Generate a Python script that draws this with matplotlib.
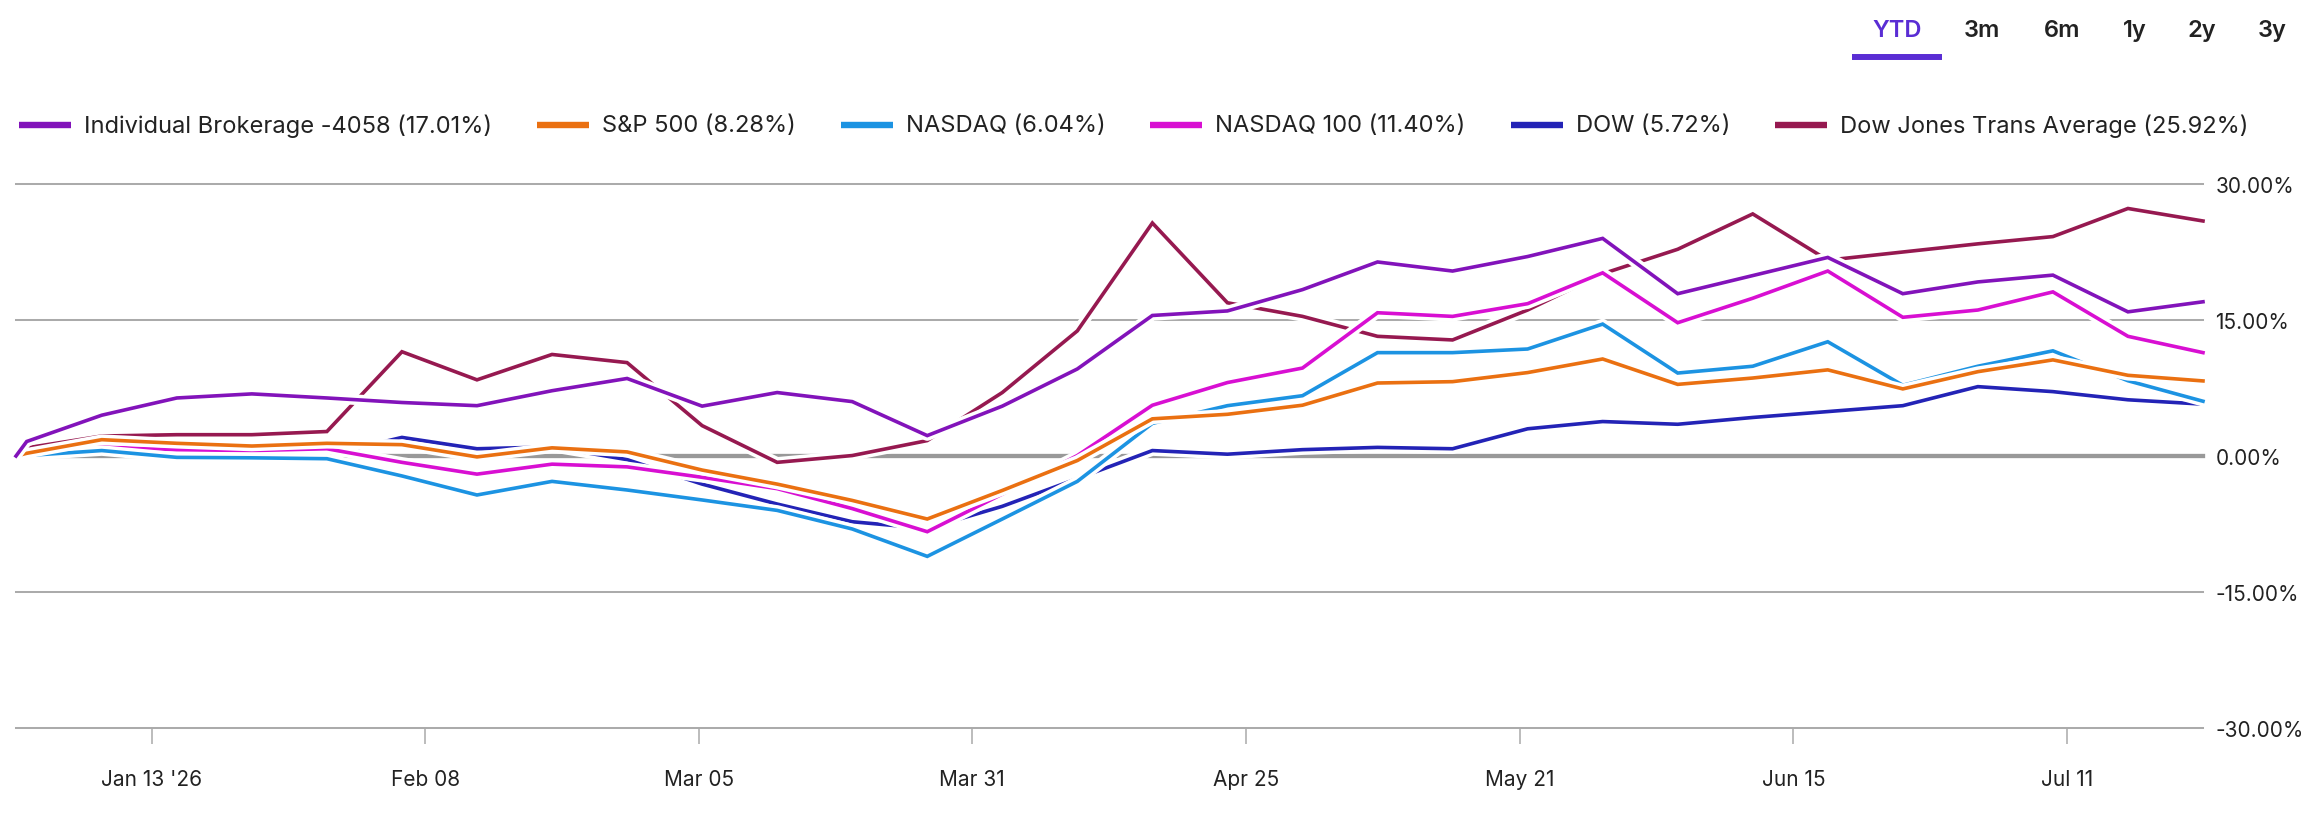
import matplotlib
matplotlib.use("Agg")
import matplotlib.pyplot as plt
import matplotlib.patheffects as pe
from matplotlib.lines import Line2D
import numpy as np

plt.rcParams['font.family'] = ['Inter', 'DejaVu Sans']

# ---------------- data ----------------
dates = np.array([
    '2025-12-31', '2026-01-01', '2026-01-08', '2026-01-15', '2026-01-22', '2026-01-29',
    '2026-02-05', '2026-02-12', '2026-02-19', '2026-02-26', '2026-03-05', '2026-03-12',
    '2026-03-19', '2026-03-26', '2026-04-02', '2026-04-09', '2026-04-16', '2026-04-23',
    '2026-04-30', '2026-05-07', '2026-05-14', '2026-05-21', '2026-05-28', '2026-06-04',
    '2026-06-11', '2026-06-18', '2026-06-25', '2026-07-02', '2026-07-09', '2026-07-16',
    '2026-07-23'], dtype='datetime64[D]')

series_names = ["Individual Brokerage -4058 (17.01%)", "S&P 500 (8.28%)", "NASDAQ (6.04%)",
                "NASDAQ 100 (11.40%)", "DOW (5.72%)", "Dow Jones Trans Average (25.92%)"]
series_colors = ["#8213BA", "#EA7011", "#1C93E2", "#D80FD2", "#2323B6", "#961950"]

brokerage = [0, 1.6, 4.5, 6.4, 6.85, 6.4, 5.9, 5.55, 7.2, 8.55, 5.5, 7.0, 6.0, 2.25, 5.5, 9.6,
             15.5, 16.0, 18.35, 21.4, 20.4, 22.0, 24.0, 17.9, 19.9, 21.9, 17.9, 19.2, 19.95,
             15.9, 17.01]
sp500 = [0, 0.3, 1.8, 1.4, 1.1, 1.4, 1.25, -0.1, 0.9, 0.45, -1.55, -3.1, -4.9, -6.95, -3.8,
         -0.5, 4.1, 4.6, 5.6, 8.05, 8.2, 9.2, 10.7, 7.9, 8.6, 9.5, 7.4, 9.3, 10.6, 8.9, 8.28]
nasdaq = [0, 0.05, 0.6, -0.15, -0.2, -0.3, -2.2, -4.3, -2.8, -3.75, -4.85, -6.0, -8.05, -11.07,
          -6.95, -2.8, 3.6, 5.55, 6.65, 11.4, 11.4, 11.8, 14.55, 9.15, 9.9, 12.6, 7.8, 9.9,
          11.6, 8.3, 6.04]
nasdaq100 = [0, 0.2, 1.0, 0.7, 0.6, 0.8, -0.7, -2.0, -0.9, -1.2, -2.35, -3.6, -5.8, -8.35,
             -4.2, 0.05, 5.6, 8.1, 9.7, 15.8, 15.4, 16.8, 20.2, 14.7, 17.4, 20.4, 15.3, 16.1,
             18.1, 13.2, 11.40]
dow = [0, 0.2, 1.2, 0.9, 0.7, 0.1, 2.05, 0.8, 1.0, -0.4, -3.1, -5.3, -7.25, -8.0, -5.55, -2.5,
       0.6, 0.2, 0.7, 0.95, 0.8, 3.0, 3.8, 3.5, 4.25, 4.9, 5.55, 7.65, 7.1, 6.2, 5.72]
trans = [0, 0.9, 2.2, 2.35, 2.35, 2.7, 11.5, 8.4, 11.2, 10.3, 3.35, -0.7, 0.05, 1.7, 7.0, 13.8,
         25.7, 16.9, 15.4, 13.2, 12.8, 16.1, 20.1, 22.8, 26.7, 21.6, 22.5, 23.4, 24.2, 27.3,
         25.92]
series_values = [brokerage, sp500, nasdaq, nasdaq100, dow, trans]

x_tick_labels = ["Jan 13 '26", "Feb 08", "Mar 05", "Mar 31", "Apr 25", "May 21", "Jun 15", "Jul 11"]
y_ticks = [-30, -15, 0, 15, 30]
range_buttons = ["YTD", "3m", "6m", "1y", "2y", "3y"]

# evenly spaced datetime ticks (the axis places them every ~25.5 days)
tick_first = np.datetime64('2026-01-12T16:00')
tick_last = np.datetime64('2026-07-10T07:00')
span_h = (tick_last - tick_first).astype('timedelta64[h]').astype(float)
x_tick_pos = [tick_first + np.timedelta64(int(round(k * span_h / 7)), 'h') for k in range(8)]

# ---------------- layout ----------------
W, H = 2312, 820
FS = 15
TEXT = "#222222"
ACCENT = "#5A2DD4"
fig = plt.figure(figsize=(W / 100, H / 100), dpi=100)
fig.patch.set_facecolor("white")
renderer = fig.canvas.get_renderer()


def fx(x):
    return x / W


def fy(y):
    return 1 - y / H


ax = fig.add_axes([fx(16), fy(729), (2203 - 16) / W, (729 - 185) / H])
ax.set_xlim(dates[0], dates[-1])
ax.set_ylim(-30, 30)
for s in ax.spines.values():
    s.set_visible(False)

for v in y_ticks:
    if v == 0:
        ax.axhline(v, color="#999999", lw=3.1, zorder=1, clip_on=False)
    else:
        ax.axhline(v, color="#ababab", lw=1.45, zorder=1, clip_on=False)

for i, (vals, col) in enumerate(zip(series_values, series_colors)):
    ax.plot(dates, vals, color=col, lw=2.6, zorder=20 - i, clip_on=False,
            solid_joinstyle="miter",
            path_effects=[pe.Stroke(linewidth=7.6, foreground="white", joinstyle="round"),
                          pe.Normal()])

ax.set_xticks(x_tick_pos)
ax.set_xticklabels(x_tick_labels)
ax.tick_params(axis="x", length=11.5, width=1.1, color="#aaaaaa", pad=18,
               labelsize=FS, labelcolor=TEXT)
ax.yaxis.tick_right()
ax.set_yticks(y_ticks)
ax.set_yticklabels([f"{v:.2f}%" for v in y_ticks])
ax.tick_params(axis="y", length=0, pad=9, labelsize=FS, labelcolor=TEXT)

# ---------------- legend (custom row) ----------------
probe_w = 0.0
for name in series_names:
    p = fig.text(0, 0, name, fontsize=10)
    probe_w += p.get_window_extent(renderer).width
    p.remove()
# reference row: starts at x=19, ends at x=2254; swatch 52, gap 13, spacing 45
LFS = 10 * (2254 - 19 - 6 * 65 - 5 * 45) / probe_w

x = 19
yc = 126
for name, col in zip(series_names, series_colors):
    fig.add_artist(Line2D([fx(x), fx(x + 52)], [fy(yc), fy(yc)], transform=fig.transFigure,
                          lw=4.6, color=col, solid_capstyle="butt"))
    t = fig.text(fx(x + 65), fy(yc), name, fontsize=LFS, color=TEXT, va="center", ha="left")
    w = t.get_window_extent(renderer).width
    x = x + 65 + w + 45

# ---------------- range buttons ----------------
btn_centers = [1897, 1982, 2062, 2135, 2202, 2272]
for lab, cx in zip(range_buttons, btn_centers):
    color = ACCENT if lab == "YTD" else TEXT
    fig.text(fx(cx), fy(37), lab, fontsize=17, color=color, ha="center", va="baseline",
             fontweight="semibold")
fig.add_artist(Line2D([fx(1852), fx(1942)], [fy(58), fy(58)], transform=fig.transFigure,
                      lw=4.3, color=ACCENT, solid_capstyle="butt"))

fig.savefig("out.png", dpi=100, facecolor="white")
